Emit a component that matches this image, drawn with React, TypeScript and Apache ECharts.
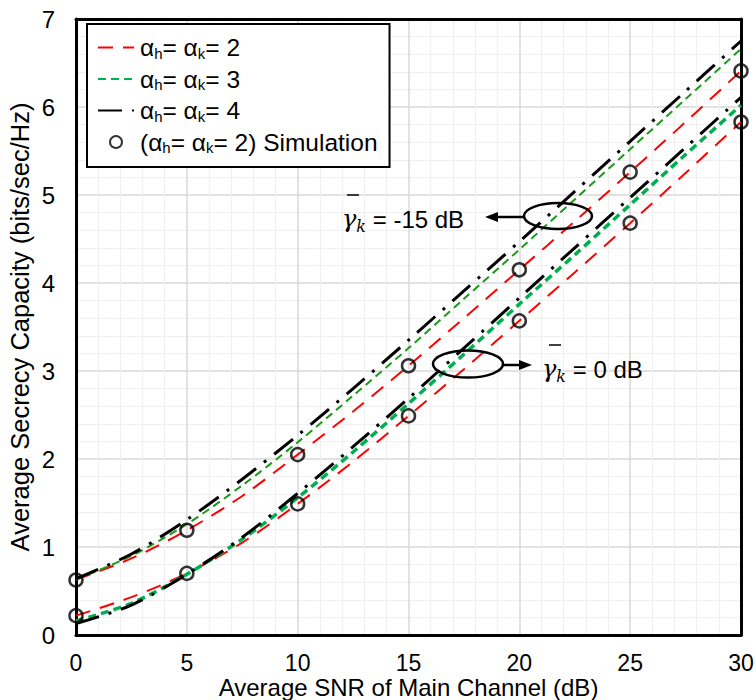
import React, { useEffect, useRef } from "react";
import * as echarts from "echarts";

const snr = [0, 2.5, 5, 7.5, 10, 12.5, 15, 17.5, 20, 22.5, 25, 27.5, 30];

// gamma_k = -15 dB
const upA2 = [0.63, 0.87, 1.19, 1.58, 2.05, 2.54, 3.06, 3.6, 4.15, 4.7, 5.26, 5.83, 6.41];
const upA3 = [0.63, 0.9, 1.26, 1.7, 2.19, 2.72, 3.26, 3.82, 4.38, 4.95, 5.52, 6.09, 6.66];
const upA4 = [0.64, 0.92, 1.31, 1.77, 2.27, 2.8, 3.35, 3.91, 4.47, 5.04, 5.61, 6.18, 6.75];

// gamma_k = 0 dB
const loA2 = [0.22, 0.43, 0.7, 1.05, 1.49, 1.97, 2.49, 3.02, 3.57, 4.12, 4.68, 5.25, 5.83];
const loA3 = [0.16, 0.36, 0.69, 1.09, 1.56, 2.08, 2.63, 3.19, 3.76, 4.32, 4.89, 5.46, 6.02];
const loA4 = [0.13, 0.34, 0.69, 1.11, 1.61, 2.14, 2.69, 3.26, 3.83, 4.4, 4.97, 5.54, 6.11];

// simulation points (alpha = 2)
const simX = [0, 5, 10, 15, 20, 25, 30];
const simUp = [0.625, 1.19, 2.05, 3.06, 4.15, 5.26, 6.41];
const simLo = [0.22, 0.7, 1.49, 2.49, 3.57, 4.68, 5.83];

const xTicks = [0, 5, 10, 15, 20, 25, 30];
const yTicks = [0, 1, 2, 3, 4, 5, 6, 7];

const NAME2 = "a2";
const NAME3 = "a3";
const NAME4 = "a4";
const NAMESIM = "sim";

const FONT = "'Liberation Sans', Arial, sans-serif";

const pair = (xs: number[], ys: number[]) => xs.map((x, i) => [x, ys[i]]);

export default function App() {
  const ref = useRef<HTMLDivElement>(null);
  useEffect(() => {
    if (!ref.current) return;
    const chart = echarts.init(ref.current, null, { renderer: "svg" });

    const red = "#ff0000";
    const green = "#00b050";
    const greenDark = "#1a9a1a";
    const black = "#000000";

    const lineSeries = (name: string, data: number[], color: string, width: number, dash: any, z: number) => ({
      type: "line",
      name,
      data: pair(snr, data),
      smooth: 0.3,
      symbol: "none",
      z,
      lineStyle: { color, width, type: dash },
      itemStyle: { color },
    });

    const simSeries = (data: number[]) => ({
      type: "scatter",
      name: NAMESIM,
      data: pair(simX, data),
      symbol: "circle",
      symbolSize: 13,
      z: 10,
      itemStyle: { color: "rgba(255,255,255,0)", borderColor: black, borderWidth: 2.5 },
    });

    const legendLabels: Record<string, string> = {
      [NAME2]: "{a|α}{s|h}{a|= α}{s|k}{a|= 2}",
      [NAME3]: "{a|α}{s|h}{a|= α}{s|k}{a|= 3}",
      [NAME4]: "{a|α}{s|h}{a|= α}{s|k}{a|= 4}",
      [NAMESIM]: "{a|(α}{s|h}{a|= α}{s|k}{a|= 2) Simulation}",
    };

    const gammaText = (x: number, y: number, rest: string) => ({
      type: "text",
      x,
      y,
      z: 100,
      style: {
        text: "{g|γ}{k|k}{t|" + rest + "}",
        verticalAlign: "middle",
        rich: {
          g: { fontFamily: "'DejaVu Serif', serif", fontStyle: "italic", fontSize: 24, fill: "#000" },
          k: { fontFamily: "'DejaVu Serif', serif", fontStyle: "italic", fontSize: 16, fill: "#000", padding: [14, 0, 0, 0] },
          t: { fontFamily: FONT, fontSize: 24, fill: "#000" },
        },
      },
    });

    const hidden = { opacity: 0 };

    chart.setOption({
      animation: false,
      backgroundColor: "#ffffff",
      grid: { left: 76, right: 15, top: 19, bottom: 65, show: false, containLabel: false, outerBoundsMode: "none" },
      legend: {
        data: [
          { name: NAME2, itemStyle: hidden },
          { name: NAME3, itemStyle: hidden },
          { name: NAME4, itemStyle: hidden },
          { name: NAMESIM },
        ],
        orient: "vertical",
        left: 87,
        top: 24,
        width: 336,
        height: 134,
        padding: [11, 12, 12, 10],
        itemGap: 6,
        itemWidth: 36,
        itemHeight: 12,
        backgroundColor: "#ffffff",
        borderColor: "#000",
        borderWidth: 2,
        borderRadius: 0,
        z: 50,
        formatter: (n: string) => legendLabels[n] || n,
        textStyle: {
          fontFamily: FONT,
          fontSize: 24,
          color: "#000",
          padding: [0, 0, 0, 1],
          rich: {
            a: { fontFamily: FONT, fontSize: 24.5, color: "#000" },
            s: { fontFamily: FONT, fontSize: 15, color: "#000", padding: [11, 0, 0, 0] },
          },
        },
      },
      xAxis: [
        {
          type: "value",
          min: 0,
          max: 30,
          interval: 5,
          name: "Average SNR of Main Channel (dB)",
          nameLocation: "middle",
          nameGap: 40,
          nameMoveOverlap: false,
          nameTextStyle: { fontFamily: FONT, fontSize: 24, color: "#000" },
          axisLine: { show: true, onZero: false, lineStyle: { color: "#000", width: 3 } },
          axisTick: { show: false },
          axisLabel: {
            fontFamily: FONT,
            fontSize: 23,
            color: "#000",
            margin: 16,
            formatter: (v: number) => (xTicks.includes(v) ? String(v) : ""),
          },
          splitLine: { show: true, lineStyle: { color: "#d9d9d9", width: 1.5 } },
          minorTick: { show: false, splitNumber: 5 },
          minorSplitLine: { show: true, lineStyle: { color: "#f0f0f0", width: 1.2 } },
        },
        {
          type: "value",
          min: 0,
          max: 30,
          interval: 5,
          position: "top",
          axisLine: { show: true, onZero: false, lineStyle: { color: "#000", width: 3 } },
          axisTick: { show: false },
          axisLabel: { show: false },
          splitLine: { show: false },
        },
      ],
      yAxis: [
        {
          type: "value",
          min: 0,
          max: 7,
          interval: 1,
          name: "Average Secrecy Capacity (bits/sec/Hz)",
          nameLocation: "middle",
          nameRotate: 90,
          nameGap: 43,
          nameMoveOverlap: false,
          nameTextStyle: { fontFamily: FONT, fontSize: 25.5, color: "#000" },
          axisLine: { show: true, onZero: false, lineStyle: { color: "#000", width: 3 } },
          axisTick: { show: false },
          axisLabel: {
            fontFamily: FONT,
            fontSize: 24,
            color: "#000",
            margin: 21,
            formatter: (v: number) => (yTicks.includes(v) ? String(v) : ""),
          },
          splitLine: { show: true, lineStyle: { color: "#d9d9d9", width: 1.5 } },
          minorTick: { show: false, splitNumber: 5 },
          minorSplitLine: { show: true, lineStyle: { color: "#f0f0f0", width: 1.2 } },
        },
        {
          type: "value",
          min: 0,
          max: 7,
          interval: 1,
          position: "right",
          axisLine: { show: true, onZero: false, lineStyle: { color: "#000", width: 3 } },
          axisTick: { show: false },
          axisLabel: { show: false },
          splitLine: { show: false },
        },
      ],
      series: [
        lineSeries(NAME2, loA2, red, 2, [15, 10], 3),
        lineSeries(NAME2, upA2, red, 2, [15, 10], 3),
        lineSeries(NAME3, loA3, green, 3.5, [8, 5], 4),
        lineSeries(NAME3, upA3, greenDark, 2, [8, 5], 4),
        lineSeries(NAME4, loA4, black, 3, [24, 10, 3, 10], 5),
        lineSeries(NAME4, upA4, black, 3, [24, 10, 3, 10], 5),
        simSeries(simUp),
        simSeries(simLo),
      ],
      graphic: [
        // upper annotation (gamma_k = -15 dB)
        { type: "ellipse", z: 100, shape: { cx: 558, cy: 216, rx: 34, ry: 13 }, style: { fill: "rgba(0,0,0,0)", stroke: "#000", lineWidth: 2.5 } },
        { type: "line", z: 100, shape: { x1: 495, y1: 217, x2: 524, y2: 217 }, style: { stroke: "#000", lineWidth: 2.5 } },
        { type: "polygon", z: 100, shape: { points: [[485, 217], [498, 212], [498, 222]] }, style: { fill: "#000" } },
        gammaText(342, 219, " = -15 dB"),
        { type: "line", z: 100, shape: { x1: 347, y1: 195, x2: 359, y2: 195 }, style: { stroke: "#000", lineWidth: 1.5 } },
        // lower annotation (gamma_k = 0 dB)
        { type: "ellipse", z: 100, shape: { cx: 468, cy: 364, rx: 35, ry: 13.5 }, style: { fill: "rgba(0,0,0,0)", stroke: "#000", lineWidth: 2.5 } },
        { type: "line", z: 100, shape: { x1: 503, y1: 365, x2: 522, y2: 365 }, style: { stroke: "#000", lineWidth: 2.5 } },
        { type: "polygon", z: 100, shape: { points: [[532, 365], [519, 360], [519, 370]] }, style: { fill: "#000" } },
        gammaText(542, 369, " = 0 dB"),
        { type: "line", z: 100, shape: { x1: 549, y1: 345, x2: 561, y2: 345 }, style: { stroke: "#000", lineWidth: 1.5 } },
      ],
    });

    return () => chart.dispose();
  }, []);

  return (
    <div
      ref={ref}
      style={{ position: "fixed", left: 0, top: 0, width: 756, height: 700, background: "#fff" }}
    />
  );
}
